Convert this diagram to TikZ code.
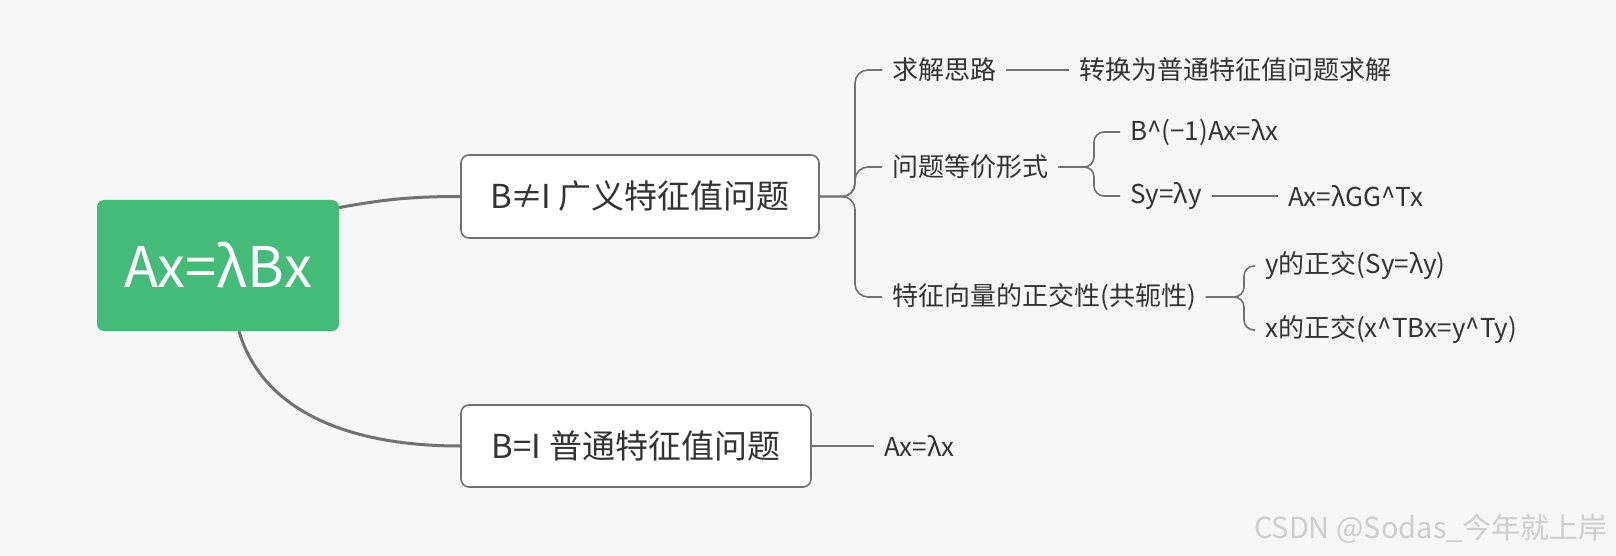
\documentclass[tikz,border=0pt]{standalone}
\usepackage{fontspec}
\setmainfont{Noto Sans CJK SC}
\definecolor{bgc}{HTML}{F6F6F6}
\definecolor{rootgreen}{HTML}{45BB7A}
\definecolor{linec}{HTML}{717171}
\definecolor{txt}{HTML}{333333}
\definecolor{wmk}{HTML}{CDCDCD}
\tikzset{
  rootbox/.style={fill=rootgreen, rounded corners=7pt, text=white, inner sep=0pt,
    font=\fontsize{56pt}{64pt}\selectfont},
  topicbox/.style={fill=white, draw=linec, line width=1.6pt, rounded corners=8pt, text=txt, inner sep=0pt,
    font=\fontsize{33pt}{40pt}\selectfont},
  leaf/.style={anchor=west, text=txt, inner xsep=10pt, inner ysep=4pt,
    font=\fontsize{26pt}{31pt}\selectfont},
  mainline/.style={draw=linec, line width=3pt},
  br/.style={draw=linec, line width=1.6pt, rounded corners=13pt},
}
\begin{document}
\begin{tikzpicture}[x=1pt,y=-1pt]
\fill[bgc] (0,0) rectangle (1616,556);
\useasboundingbox (0,0) rectangle (1616,556);

% main nodes
\node[rootbox, minimum width=242pt, minimum height=131pt] (root) at (218,265.5) {Ax=λBx};
\node[topicbox, minimum width=358pt, minimum height=83pt] (g) at (640,196.5) {B\kern-2pt≠\kern-2ptI 广义特征值问题};
\node[topicbox, minimum width=350pt, minimum height=82pt] (n) at (636,446) {B=I 普通特征值问题};

\draw[mainline] ([yshift=58pt]root.east) .. controls +(45,-8) and +(-50,0) .. (g.west);
\draw[mainline] ([xshift=21pt]root.south) .. controls +(22,75) and +(-120,0) .. (n.west);

% generalized branch
\coordinate (j1) at (855,196.5);
\node[leaf] (c1) at (882,70) {求解思路};
\node[leaf] (c2) at (882,167) {问题等价形式};
\node[leaf] (c3) at (882,297) {特征向量的正交性(共轭性)};
\draw[br] (g.east) -- (j1) |- (c1.west);
\draw[br] (g.east) -- (j1) |- (c2.west);
\draw[br] (g.east) -- (j1) |- (c3.west);

\node[leaf] (c11) at (1069,70) {转换为普通特征值问题求解};
\draw[br] (c1.east) -- (c11.west);

\coordinate (j2) at (1094,167);
\node[leaf] (c21) at (1120,132) {B\^{}(−1)Ax=λx};
\node[leaf] (c22) at (1120,196) {Sy=λy};
\draw[br, rounded corners=10pt] (c2.east) -- (j2) |- (c21.west);
\draw[br, rounded corners=10pt] (c2.east) -- (j2) |- (c22.west);
\node[leaf] (c221) at (1278,196) {Ax=λGG\^{}Tx};
\draw[br] (c22.east) -- (c221.west);

\coordinate (j3) at (1244,297);
\node[leaf] (c31) at (1255,266) {y的正交(Sy=λy)};
\node[leaf] (c32) at (1255,330) {x的正交(x\^{}TBx=y\^{}Ty)};
\draw[br, rounded corners=10pt] (c3.east) -- (j3) |- (c31.west);
\draw[br, rounded corners=10pt] (c3.east) -- (j3) |- (c32.west);

% ordinary branch
\node[leaf] (n1) at (874,446) {Ax=λx};
\draw[br] (n.east) -- (n1.west);

% watermark
\node[anchor=east, text=wmk, inner sep=0pt, font=\fontsize{29pt}{34pt}\selectfont] (wm) at (1608,529) {CSDN @Sodas\_今年就上岸};
\end{tikzpicture}
\end{document}
